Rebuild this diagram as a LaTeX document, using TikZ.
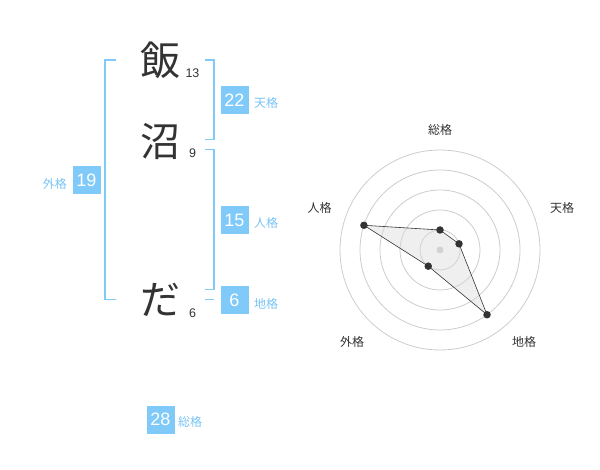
\documentclass[tikz,border=0pt]{standalone}
\usepackage{fontspec}
\setmainfont{Liberation Sans}
\newfontfamily\jp{Noto Sans CJK JP}
\definecolor{kblue}{RGB}{128,202,250}
\definecolor{klab}{RGB}{120,196,245}
\definecolor{kdark}{RGB}{51,51,51}
\definecolor{kgrid}{RGB}{204,204,204}
\begin{document}
\begin{tikzpicture}[x=1pt,y=-1pt,
  kanji/.style={font=\jp\fontsize{40}{40}\selectfont, text=kdark, inner sep=0pt},
  strokes/.style={font=\fontsize{12.5}{12.5}\selectfont, text=kdark, inner sep=0pt},
  numbox/.style={fill=kblue, minimum width=28pt, minimum height=28pt, inner sep=0pt, text=white, font=\fontsize{18}{18}\selectfont},
  kaku/.style={font=\jp\fontsize{12}{12}\selectfont, text=klab, inner sep=0pt},
  brk/.style={draw=kblue, line width=1.6pt},
  rlab/.style={font=\jp\fontsize{12}{12}\selectfont, text=kdark, inner sep=0pt},
  ring/.style={draw=kgrid, line width=0.8pt},
  pt/.style={circle, fill=kdark, minimum size=7.5pt, inner sep=0pt}]
\useasboundingbox (0,0) rectangle (600,470);
% characters
\node[kanji] (c1) at (160,60) {飯};
\node[kanji] (c2) at (160,142) {沼};
\node[kanji] (c3) at (160,300) {だ};
\node[strokes] (s1) at (192.5,73) {13};
\node[strokes] (s2) at (192.5,153.5) {9};
\node[strokes] (s3) at (192.5,313.5) {6};
% brackets
\draw[brk] (116,60) -- (105,60) -- (105,299.5) -- (116,299.5);
\draw[brk] (205,60) -- (214,60) -- (214,139.5) -- (205,139.5);
\draw[brk] (205,149.5) -- (214,149.5) -- (214,289.5) -- (205,289.5);
\draw[brk] (205,299.5) -- (214,299.5);
% boxes
\node[numbox] (b22) at (234.5,100.5) {22};
\node[numbox] (b15) at (234.5,220.5) {15};
\node[numbox] (b6) at (234.5,300.5) {6};
\node[numbox] (b19) at (86.5,180.5) {19};
\node[numbox] (b28) at (160.5,419.5) {28};
\node[kaku, anchor=west] (l22) at (254,103) {天格};
\node[kaku, anchor=west] (l15) at (254,223) {人格};
\node[kaku, anchor=west] (l6) at (254,303.5) {地格};
\node[kaku, anchor=east] (l19) at (67,183.5) {外格};
\node[kaku, anchor=west] (l28) at (178,422) {総格};
% radar
\coordinate (o) at (440,250);
\foreach \r in {20,40,60,80,100} \draw[ring] (o) circle[radius=\r];
\fill[kgrid] (o) circle[radius=3.5];
\coordinate (pS) at (440,230);
\coordinate (pT) at (459.02,243.82);
\coordinate (pC) at (487.02,314.72);
\coordinate (pG) at (428.24,266.18);
\coordinate (pJ) at (363.92,225.28);
\draw[fill=black!14, fill opacity=0.45, draw=kdark, line width=0.6pt] (pS) -- (pT) -- (pC) -- (pG) -- (pJ) -- cycle;
\foreach \p in {pS,pT,pC,pG,pJ} \node[pt] at (\p) {};
\node[rlab] (rS) at (440,130) {総格};
\node[rlab] (rT) at (562,208) {天格};
\node[rlab] (rC) at (524,342) {地格};
\node[rlab] (rG) at (352,342) {外格};
\node[rlab] (rJ) at (319.5,208) {人格};
\end{tikzpicture}
\end{document}
